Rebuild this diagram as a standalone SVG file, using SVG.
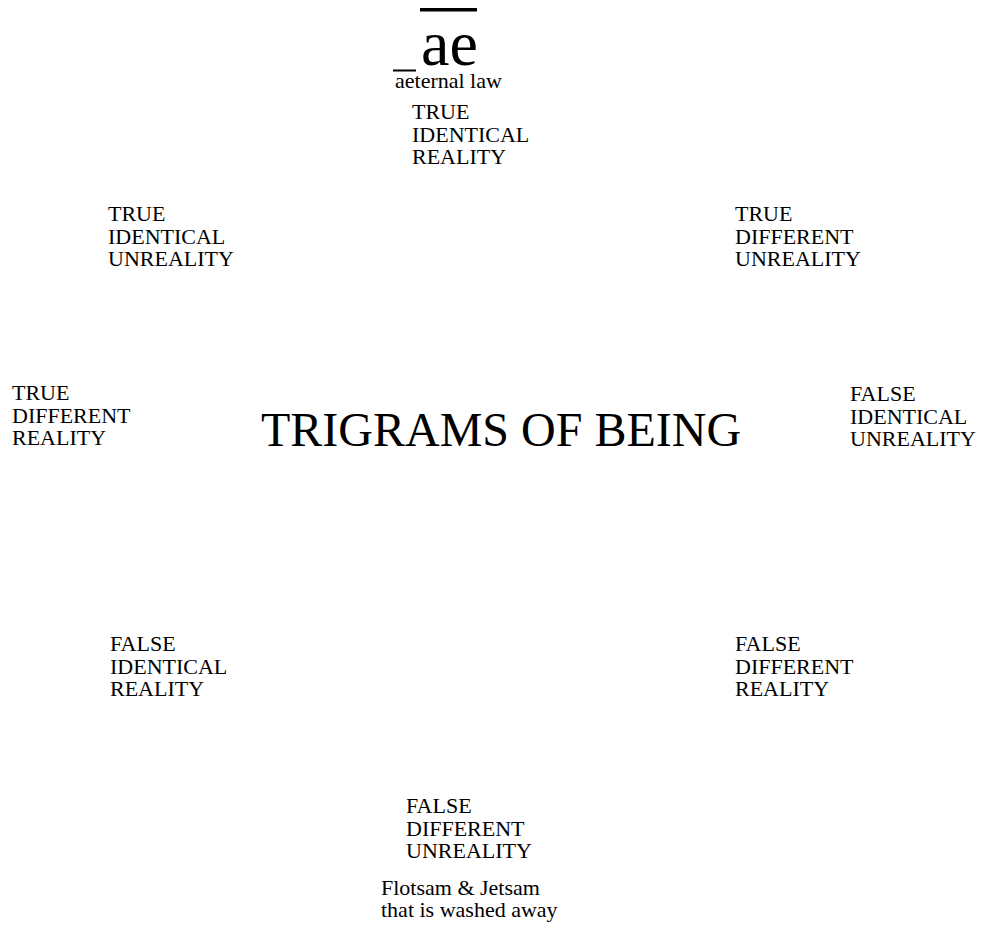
<svg xmlns="http://www.w3.org/2000/svg" width="992" height="928" viewBox="0 0 992 928">
<rect width="992" height="928" fill="#fff"/>
<g id="connectors"/>
<g id="aeternal">
<rect fill="#000" x="420" y="8" width="57" height="3.5"/>
<rect fill="#000" x="393" y="69.5" width="23" height="2"/>
<text x="421" y="65" font-family="Liberation Serif" font-size="64">ae</text>
<text x="395" y="88" font-family="Liberation Serif" font-size="22">aeternal law</text>
</g>
<g id="n-true-identical-reality"><text font-family="Liberation Serif" font-size="22" x="412" y="119"><tspan x="412">TRUE</tspan><tspan x="412" dy="22.5">IDENTICAL</tspan><tspan x="412" dy="22.5">REALITY</tspan></text></g>
<g id="n-true-identical-unreality"><text font-family="Liberation Serif" font-size="22" x="108" y="221"><tspan x="108">TRUE</tspan><tspan x="108" dy="22.5">IDENTICAL</tspan><tspan x="108" dy="22.5">UNREALITY</tspan></text></g>
<g id="n-true-different-unreality"><text font-family="Liberation Serif" font-size="22" x="735" y="221"><tspan x="735">TRUE</tspan><tspan x="735" dy="22.5">DIFFERENT</tspan><tspan x="735" dy="22.5">UNREALITY</tspan></text></g>
<g id="n-true-different-reality"><text font-family="Liberation Serif" font-size="22" x="12" y="400"><tspan x="12">TRUE</tspan><tspan x="12" dy="22.5">DIFFERENT</tspan><tspan x="12" dy="22.5">REALITY</tspan></text></g>
<g id="title"><text font-family="Liberation Serif" font-size="48" x="261" y="446">TRIGRAMS OF BEING</text></g>
<g id="n-false-identical-unreality"><text font-family="Liberation Serif" font-size="22" x="850" y="401"><tspan x="850">FALSE</tspan><tspan x="850" dy="22.5">IDENTICAL</tspan><tspan x="850" dy="22.5">UNREALITY</tspan></text></g>
<g id="n-false-identical-reality"><text font-family="Liberation Serif" font-size="22" x="110" y="651"><tspan x="110">FALSE</tspan><tspan x="110" dy="22.5">IDENTICAL</tspan><tspan x="110" dy="22.5">REALITY</tspan></text></g>
<g id="n-false-different-reality"><text font-family="Liberation Serif" font-size="22" x="735" y="651"><tspan x="735">FALSE</tspan><tspan x="735" dy="22.5">DIFFERENT</tspan><tspan x="735" dy="22.5">REALITY</tspan></text></g>
<g id="n-false-different-unreality"><text font-family="Liberation Serif" font-size="22" x="406" y="813"><tspan x="406">FALSE</tspan><tspan x="406" dy="22.5">DIFFERENT</tspan><tspan x="406" dy="22.5">UNREALITY</tspan></text></g>
<g id="flotsam"><text font-family="Liberation Serif" font-size="22" x="381" y="895"><tspan x="381">Flotsam &amp; Jetsam</tspan><tspan x="381" dy="22">that is washed away</tspan></text></g>
</svg>
